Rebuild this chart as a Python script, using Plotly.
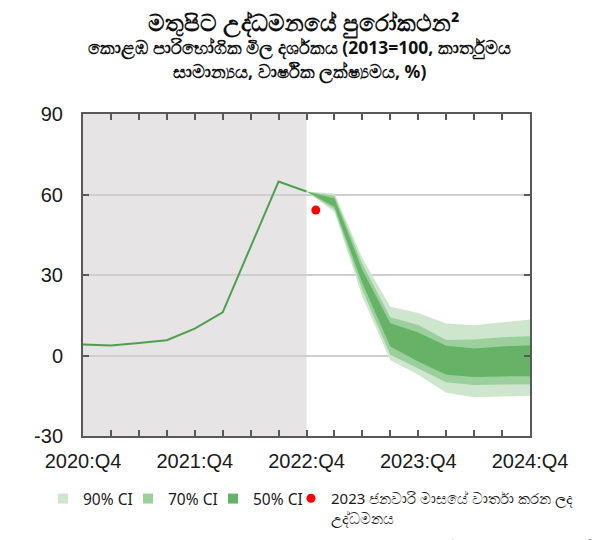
import plotly.graph_objects as go

# ---- data ----
tick_labels = ["2020:Q4", "2021:Q4", "2022:Q4", "2023:Q4", "2024:Q4"]
quarter_index = list(range(17))          # 2020:Q4 ... 2024:Q4
label_positions = [0, 4, 8, 12, 16]
y_tick_vals = [-30, 0, 30, 60, 90]
y_tick_text = ["-30", "0", "30", "60", "90"]

hist_x = [0, 1, 2, 3, 4, 5, 6, 7, 8]
hist_y = [4.1, 3.7, 4.7, 5.7, 10.0, 16.1, 40.5, 64.8, 61.1]

fan_x = [8, 9, 10, 11, 12, 13, 14, 15, 16]
ci90_up = [61.1, 60.4, 36.2, 18.2, 15.8, 11.9, 11.3, 12.4, 13.4]
ci70_up = [61.1, 59.5, 34.1, 14.3, 11.4, 5.8, 6.0, 6.8, 7.2]
ci50_up = [61.1, 58.5, 31.9, 12.0, 8.6, 3.6, 2.6, 3.4, 3.8]
ci50_lo = [61.1, 55.4, 26.9, 3.4, -2.2, -7.2, -8.0, -7.8, -7.7]
ci70_lo = [61.1, 54.5, 24.4, 0.3, -4.7, -10.0, -11.0, -10.8, -10.7]
ci90_lo = [61.1, 53.5, 21.9, -1.8, -7.2, -13.9, -15.6, -15.4, -15.0]

jan23_x = [8 + 1 / 3]
jan23_y = [54.2]

history_end = 8

c90, c70, c50 = "#cde6cd", "#9bcf9b", "#66b266"
line_col = "#4e9f4e"

# page body has an 8px margin: figure is sized to the visible area
W, H = 591, 532

fig = go.Figure()

def band(up, lo, col):
    return go.Scatter(x=fan_x + fan_x[::-1], y=up + lo[::-1], fill="toself",
                      fillcolor=col, line=dict(width=0, color=col), mode="lines",
                      showlegend=False, hoverinfo="skip")

fig.add_trace(band(ci90_up, ci90_lo, c90))
fig.add_trace(band(ci70_up, ci70_lo, c70))
fig.add_trace(band(ci50_up, ci50_lo, c50))

fig.add_trace(go.Scatter(x=hist_x, y=hist_y, mode="lines",
                         line=dict(color=line_col, width=2), showlegend=False))

# legend entries
for name, col in [("90% CI", c90), ("70% CI", c70), ("50% CI", c50)]:
    fig.add_trace(go.Scatter(x=[None], y=[None], mode="markers", name=name,
                             marker=dict(symbol="square", size=10, color=col),
                             legend="legend"))
# spacer entry so the last label is not clipped
fig.add_trace(go.Scatter(x=[None], y=[None], mode="markers", name=" ",
                         marker=dict(size=1, opacity=0), legend="legend"))

fig.add_trace(go.Scatter(x=jan23_x, y=jan23_y, mode="markers",
                         name="2023 ජනවාරි මාසයේ වාර්තා කරන ලද<br>උද්ධමනය",
                         marker=dict(color="#ff0000", size=9), legend="legend2"))

fig.add_shape(type="rect", xref="x", yref="paper", x0=0, x1=history_end, y0=0, y1=1,
              fillcolor="#e6e4e5", line=dict(width=0), layer="below")

fig.update_layout(
    width=W, height=H,
    paper_bgcolor="white", plot_bgcolor="white",
    margin=dict(l=75, r=69, t=106, b=104),
    font=dict(family="Noto Sans, Liberation Sans, sans-serif", color="#1a1a1a"),
    title=dict(text="<b>මතුපිට උද්ධමනයේ පුරෝකථන²</b>", x=296 / W, xanchor="center",
               xref="container", yref="container",
               y=1 - 15 / H, yanchor="middle", font=dict(size=22.5, color="#111")),
    showlegend=True,
    legend=dict(orientation="h", xref="container", yref="container",
                x=35 / W, xanchor="left", y=1 - 474 / H, yanchor="top",
                font=dict(size=15.5, color="#1a1a1a"), itemwidth=30,
                entrywidth=40, traceorder="normal", bgcolor="rgba(0,0,0,0)"),
    legend2=dict(orientation="h", xref="container", yref="container",
                 x=283 / W, xanchor="left", y=1 - 474 / H, yanchor="top",
                 font=dict(size=15, color="#1a1a1a"), itemwidth=30, valign="top",
                 bgcolor="rgba(0,0,0,0)"),
)

fig.add_annotation(text="<b>කොළඹ පාරිභෝගික මිල දර්ශකය (2013=100, කාර්තුමය</b>",
                   xref="paper", yref="paper", x=0.485, y=1.0, yshift=67, xanchor="center",
                   yanchor="middle", showarrow=False, font=dict(size=17.5, color="#111"))
fig.add_annotation(text="<b>සාමාන්‍යය, වාර්ෂික ලක්ෂ්‍යමය, %)</b>",
                   xref="paper", yref="paper", x=0.485, y=1.0, yshift=43, xanchor="center",
                   yanchor="middle", showarrow=False, font=dict(size=17.5, color="#111"))

fig.add_annotation(text="<b>2</b> මූලාශ්‍රය: ශ්‍රී ලංකා මහ බැංකුව පුරෝකථන සහ ගණනය කිරීම්",
                   xref="paper", yref="paper", x=0.32, y=0, yshift=-98, xanchor="left",
                   yanchor="top", showarrow=False, font=dict(size=15, color="#777"))

fig.update_xaxes(range=[0, 16], tickmode="array", tickvals=quarter_index,
                 ticktext=[tick_labels[label_positions.index(q)] if q in label_positions else "" for q in quarter_index],
                 ticks="inside", ticklen=6, tickwidth=2, tickcolor="#595959",
                 showline=True, linecolor="#595959", linewidth=2, mirror="ticks",
                 showgrid=False, zeroline=False, automargin=False,
                 ticklabelstandoff=6,
                 tickfont=dict(family="Liberation Sans, Arial", size=20, color="#1a1a1a"))
fig.update_yaxes(range=[-30, 90], tickmode="array", tickvals=y_tick_vals, ticktext=y_tick_text,
                 ticks="inside", ticklen=6, tickwidth=2, tickcolor="#595959",
                 showline=True, linecolor="#595959", linewidth=2, mirror="ticks",
                 showgrid=True, gridcolor="#cfcfcf", gridwidth=2, zeroline=False,
                 ticklabelstandoff=14, automargin=False,
                 tickfont=dict(family="Liberation Sans, Arial", size=20, color="#1a1a1a"))

fig.write_html("out.html")
